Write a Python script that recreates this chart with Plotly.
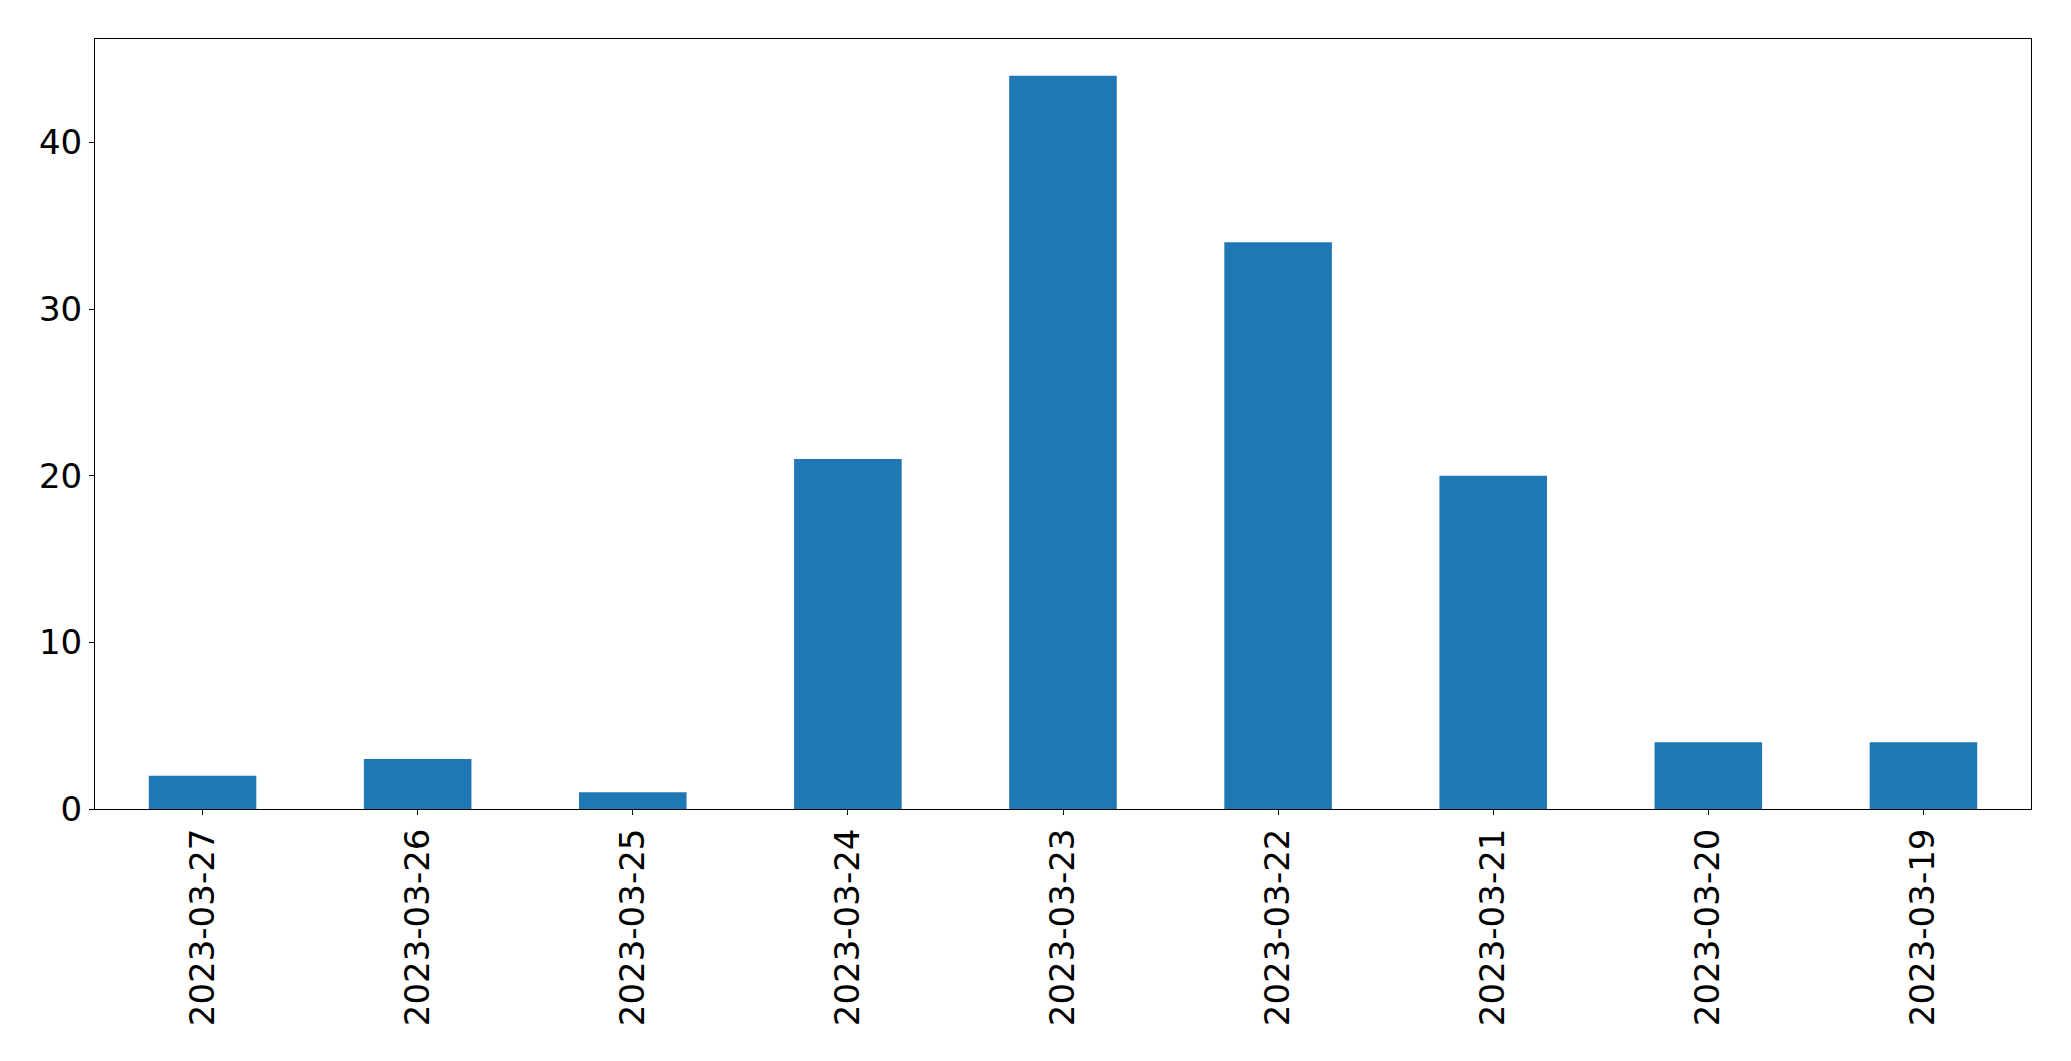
import plotly.graph_objects as go

dates = ["2023-03-27", "2023-03-26", "2023-03-25", "2023-03-24", "2023-03-23",
         "2023-03-22", "2023-03-21", "2023-03-20", "2023-03-19"]
counts = [2, 3, 1, 21, 44, 34, 20, 4, 4]
y_ticks = [0, 10, 20, 30, 40]

fig = go.Figure(go.Bar(x=dates, y=counts, width=0.5, marker=dict(color="#1f77b4", line=dict(width=0))))

font = dict(family="DejaVu Sans", size=34, color="black")
fig.update_layout(
    width=2055, height=1045,
    margin=dict(l=87, r=32, t=31, b=244, autoexpand=False),
    plot_bgcolor="white", paper_bgcolor="white",
    showlegend=False,
    font=font,
)
fig.update_xaxes(type="category", range=[-0.5, 8.5], tickangle=-90,
                 showline=True, linecolor="black", linewidth=1, mirror=True,
                 ticks="outside", ticklen=5, tickcolor="black", showgrid=False,
                 tickfont=font, automargin=False)
fig.update_yaxes(range=[0, 46.2], tickvals=y_ticks,
                 showline=True, linecolor="black", linewidth=1, mirror=True,
                 ticks="outside", ticklen=5, tickcolor="black", showgrid=False,
                 zeroline=False, tickfont=font, automargin=False)

fig.write_html("out.html")
